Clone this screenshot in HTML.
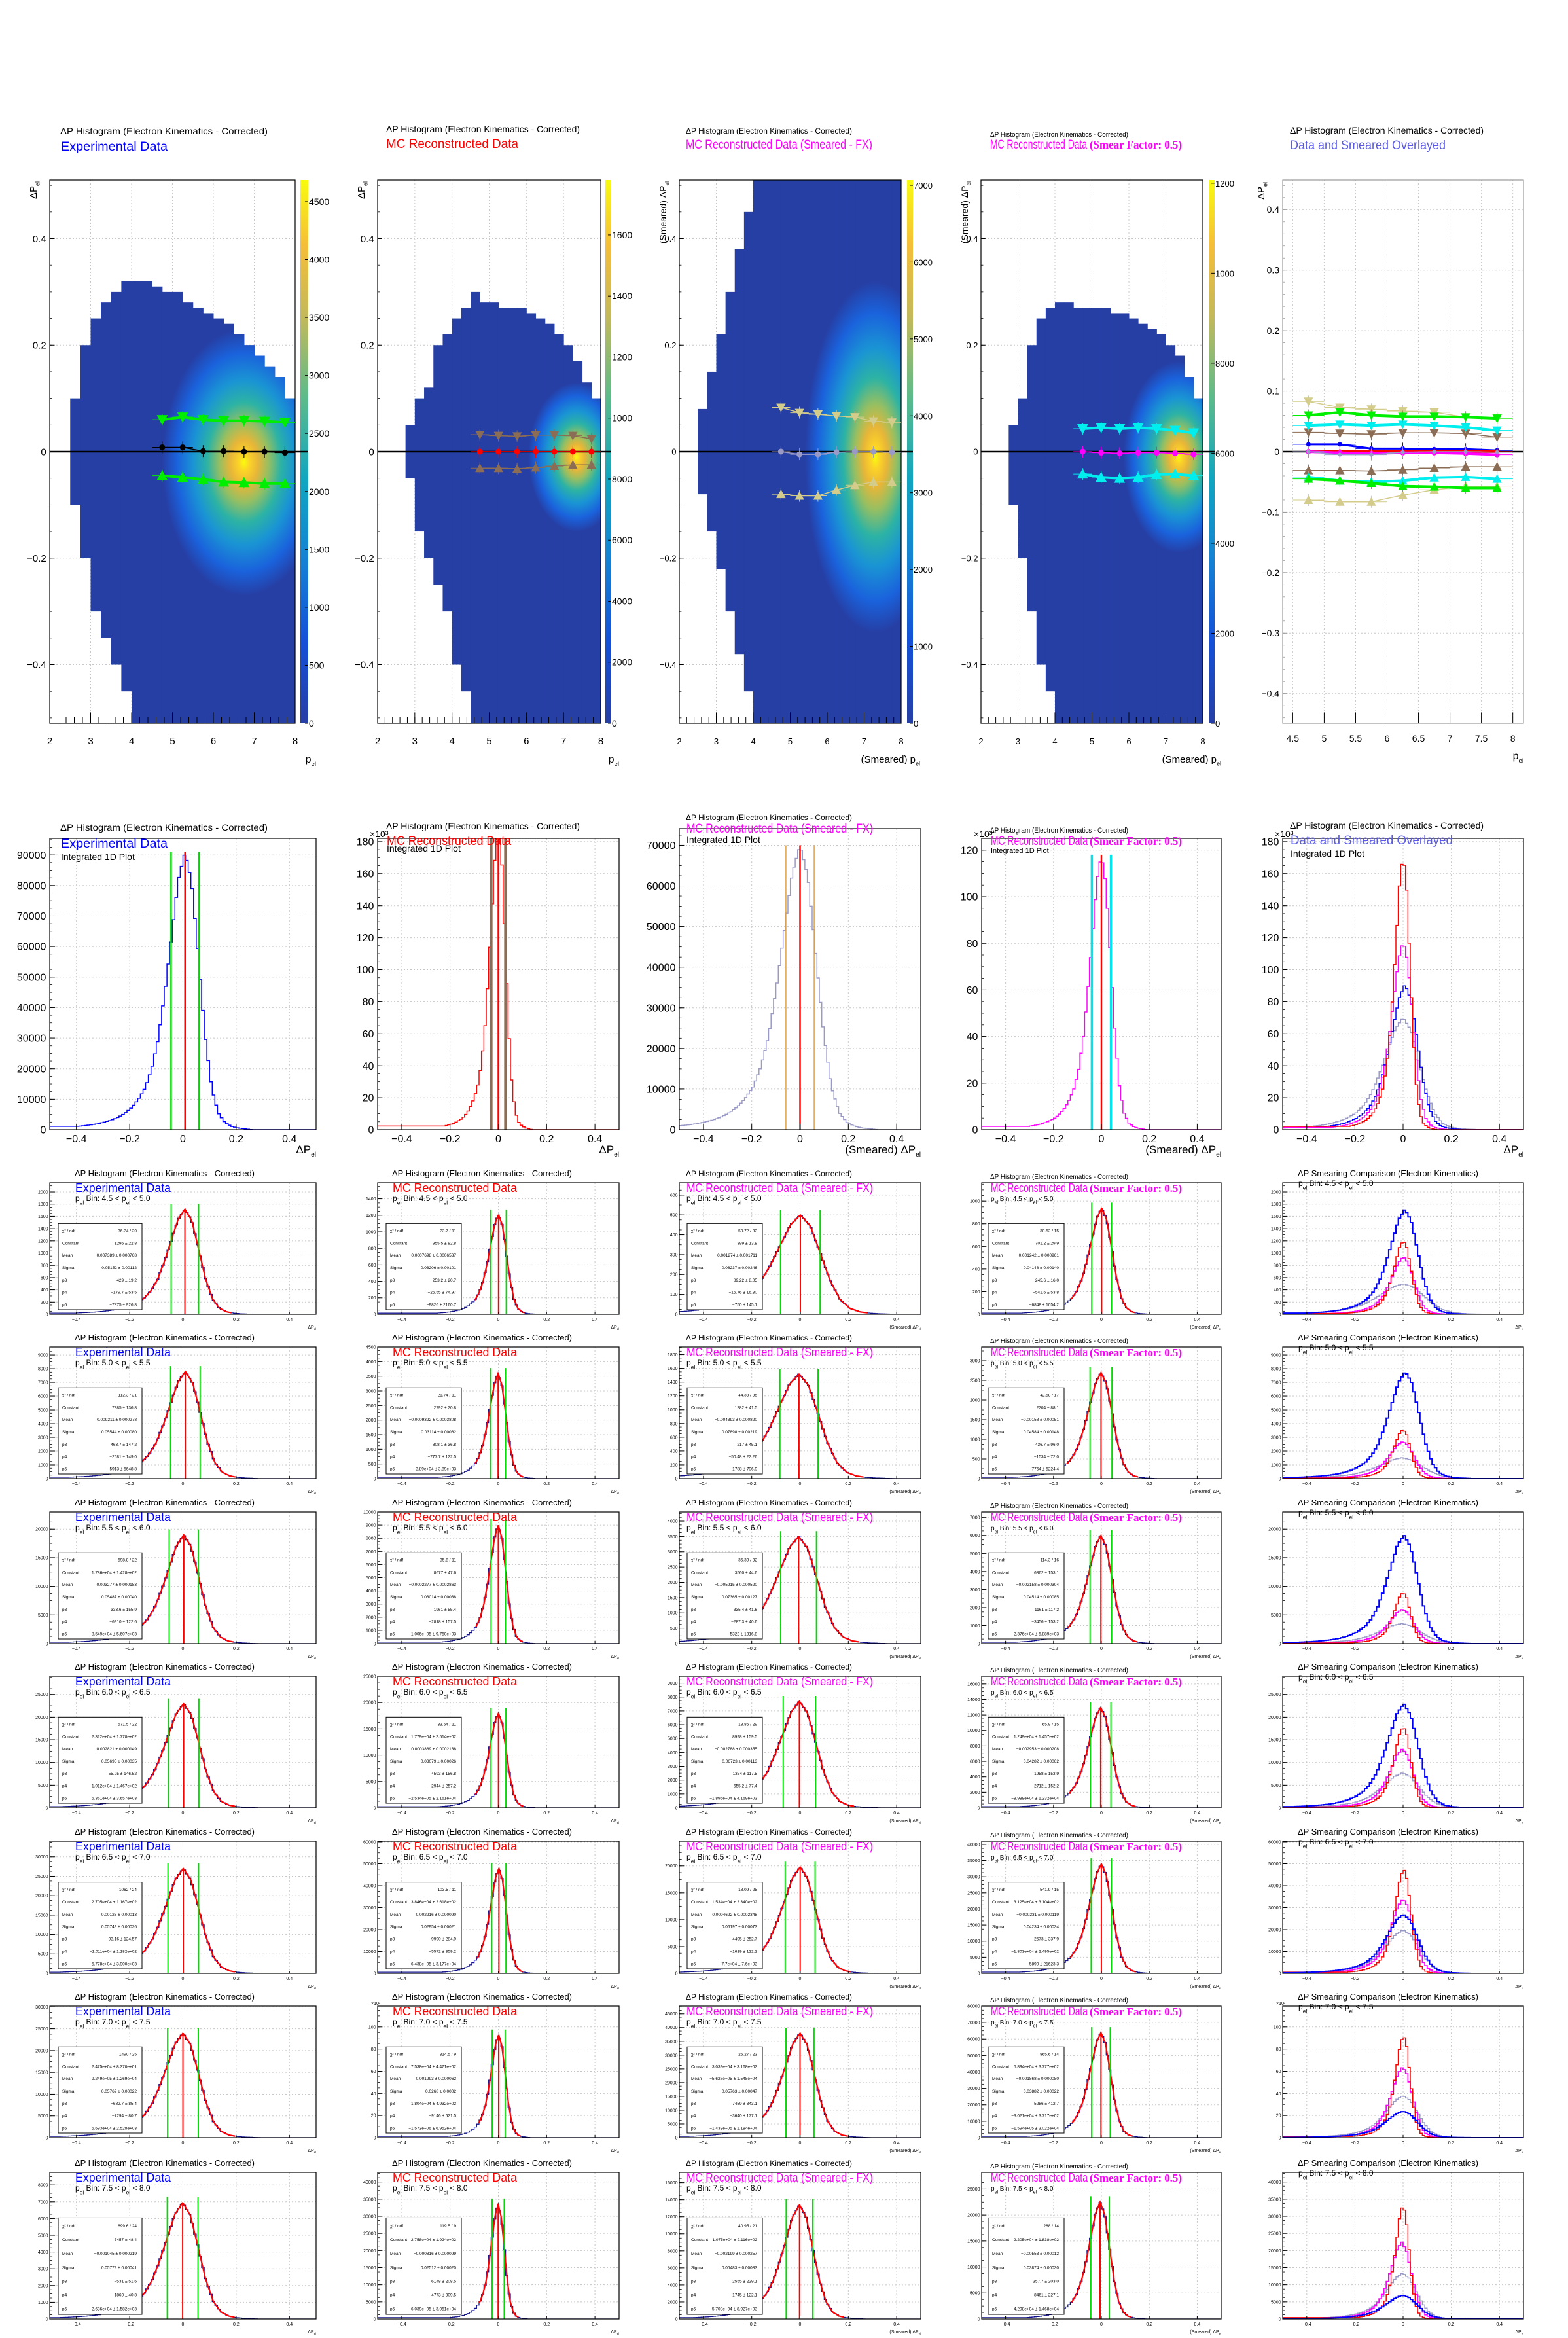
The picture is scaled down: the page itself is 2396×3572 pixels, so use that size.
<!DOCTYPE html>
<html><head><meta charset="utf-8"><style>
html,body{margin:0;padding:0;background:#fff;}
svg{display:block;font-family:"Liberation Sans",sans-serif;}
</style></head><body>
<svg id="fig" xmlns="http://www.w3.org/2000/svg" width="2396" height="3572" viewBox="0 0 2396 3572">
<defs>
<linearGradient id="palGrad" x1="0" y1="1" x2="0" y2="0">
<stop offset="0" stop-color="#263fa5"/><stop offset="0.15" stop-color="#1450d8"/><stop offset="0.3" stop-color="#1482d4"/>
<stop offset="0.45" stop-color="#10a6c0"/><stop offset="0.6" stop-color="#5cbb8a"/><stop offset="0.75" stop-color="#c4b95a"/>
<stop offset="0.88" stop-color="#f5be38"/><stop offset="1" stop-color="#f9fb0e"/></linearGradient>
<radialGradient id="blobGrad" cx="0.5" cy="0.5" r="0.5">
<stop offset="0" stop-color="#f9fb0e"/><stop offset="0.07" stop-color="#fbd228"/><stop offset="0.17" stop-color="#e8b638"/>
<stop offset="0.3" stop-color="#96bf62"/><stop offset="0.45" stop-color="#2db3a4"/><stop offset="0.62" stop-color="#1a94d4"/>
<stop offset="0.82" stop-color="#1a62dc"/><stop offset="1" stop-color="#263fa5"/></radialGradient>
</defs>
</svg>
<script>
// ---------- data ----------
const binLabels = [["4.5","5.0"],["5.0","5.5"],["5.5","6.0"],["6.0","6.5"],["6.5","7.0"],["7.0","7.5"],["7.5","8.0"]];
const expPeak = [1720,7800,19000,23000,27000,24000,6950];
const expYmax = [2150,9575,23000,29000,34000,30200,8750];
const expSig = [0.0515,0.0554,0.0549,0.057,0.0575,0.0576,0.0577];
const expMu = [0.0074,0.0092,0.0033,0.0028,0.0013,0.0001,-0.001];
const mcPeak = [1210,3600,9000,18000,48000,93000,33500];
const mcYmax = [1595,4500,10000,25000,60300,118800,42800];
const mcSig = [0.032,0.031,0.030,0.031,0.0295,0.0268,0.0251];
const mcMu = [0.0008,-0.0009,-0.0002,0.0004,0.0022,0.0013,-0.0008];
const fxPeak = [500,1520,3500,7700,19800,38000,13400];
const fxYmax = [662,1910,4300,9500,24600,47800,17200];
const fxSig = [0.082,0.079,0.074,0.067,0.062,0.058,0.055];
const fxMu = [0.0013,-0.0044,-0.0059,-0.0028,0.0005,-0.0001,-0.0022];
const s5Peak = [940,2700,6000,13000,34000,64000,22500];
const s5Ymax = [1163,3350,7300,17000,41000,80000,28200];
const s5Sig = [0.0415,0.0458,0.0451,0.0428,0.0423,0.0388,0.0387];
const s5Mu = [0.0012,-0.0016,-0.0022,-0.003,-0.0002,-0.0019,-0.0055];
const ovYmax = [2150,9575,23000,29000,60300,118800,42800];
// integrated 1D plots
const intPeak = [91000,190000,70000,118000];
const intYmax = [95400,182000,74100,125000,182000];
const intSig = [0.05,0.028,0.065,0.038];
const intMu = [0.008,0,0,0];
const intOvPeak = [172000,118000,91000,70000];
const profile = [0.012,0.015,0.018,0.022,0.028,0.035,0.045,0.06,0.08,0.11,0.15,0.22,0.33,0.5,0.7,0.9,1,0.89,0.62,0.34,0.15,0.06,0.025,0.012,0.006,0.003,0];
// heat map envelopes, bins of 0.25 from 2.5 to 8.0
const envTop = [
 [0.1,0.2,0.25,0.28,0.3,0.32,0.32,0.32,0.31,0.3,0.3,0.28,0.27,0.26,0.25,0.24,0.22,0.2,0.18,0.16,0.14,0.1],
 [0,0.05,0.1,0.12,0.2,0.22,0.25,0.27,0.3,0.28,0.28,0.27,0.27,0.27,0.26,0.25,0.24,0.22,0.2,0.17,0.13,0.1],
 [0.08,0.15,0.22,0.3,0.38,0.45,0.51,0.51,0.51,0.51,0.51,0.51,0.51,0.51,0.51,0.51,0.51,0.51,0.51,0.51,0.51,0.51],
 [0,0.05,0.1,0.2,0.25,0.27,0.28,0.28,0.27,0.27,0.27,0.27,0.26,0.26,0.25,0.24,0.23,0.22,0.2,0.18,0.14,0.1]];
const envBot = [
 [-0.1,-0.2,-0.3,-0.35,-0.4,-0.45,-0.51,-0.51,-0.51,-0.51,-0.51,-0.51,-0.51,-0.51,-0.51,-0.51,-0.51,-0.51,-0.51,-0.51,-0.51,-0.51],
 [0,-0.05,-0.15,-0.2,-0.25,-0.3,-0.4,-0.45,-0.51,-0.51,-0.51,-0.51,-0.51,-0.51,-0.51,-0.51,-0.51,-0.51,-0.51,-0.51,-0.51,-0.51],
 [-0.08,-0.15,-0.22,-0.3,-0.38,-0.45,-0.51,-0.51,-0.51,-0.51,-0.51,-0.51,-0.51,-0.51,-0.51,-0.51,-0.51,-0.51,-0.51,-0.51,-0.51,-0.51],
 [0,-0.1,-0.2,-0.3,-0.4,-0.45,-0.51,-0.51,-0.51,-0.51,-0.51,-0.51,-0.51,-0.51,-0.51,-0.51,-0.51,-0.51,-0.51,-0.51,-0.51,-0.51]];
const blobCx = [6.75,7.35,7.3,7.35], blobCy = [-0.02,-0.01,-0.01,-0.01], blobRx = [2.0,1.3,1.9,1.5], blobRy = [0.25,0.14,0.33,0.18];
const profX = [4.75,5.25,5.75,6.25,6.75,7.25,7.75];
const expMean = [0.008,0.008,0.001,0.001,0,0,-0.002];
const expUp = [0.06,0.065,0.06,0.058,0.058,0.057,0.055];
const expLo = [-0.045,-0.048,-0.052,-0.057,-0.058,-0.06,-0.06];
const mcMean = [0,0,0,0,0,0,0];
const mcUp = [0.032,0.03,0.029,0.031,0.031,0.03,0.024];
const mcLo = [-0.031,-0.031,-0.032,-0.03,-0.027,-0.025,-0.025];
const fxMean = [0,-0.005,-0.005,-0.001,0,0,-0.001];
const fxUp = [0.083,0.073,0.07,0.067,0.065,0.057,0.055];
const fxLo = [-0.08,-0.083,-0.083,-0.072,-0.063,-0.057,-0.057];
const s5Mean = [0,-0.002,-0.003,-0.002,-0.002,-0.003,-0.005];
const s5Up = [0.043,0.045,0.043,0.045,0.043,0.04,0.035];
const s5Lo = [-0.042,-0.048,-0.05,-0.048,-0.043,-0.042,-0.045];
const palMax = [4686,1780,7068,1207];
const palTicks = [[0,500,1000,1500,2000,2500,3000,3500,4000,4500],[0,200,400,600,800,1000,1200,1400,1600],[0,1000,2000,3000,4000,5000,6000,7000],[0,200,400,600,800,1000,1200]];
const palLabels = [["0","500","1000","1500","2000","2500","3000","3500","4000","4500"],["0","2000","4000","6000","8000","1000","1200","1400","1600"],["0","1000","2000","3000","4000","5000","6000","7000"],["0","2000","4000","6000","8000","1000","1200"]];
const statLabels = ["χ² / ndf","Constant","Mean","Sigma","p3","p4","p5"];
const stats = [
[["36.24 / 20","1296 ± 22.8","0.007389 ± 0.000768","0.05152 ± 0.00112","429 ± 19.2","−179.7 ± 53.5","−7875 ± 926.8"],
 ["23.7 / 11","955.5 ± 82.8","0.0007698 ± 0.0006537","0.03206 ± 0.00101","253.2 ± 20.7","−25.55 ± 74.97","−9826 ± 2160.7"],
 ["50.72 / 32","399 ± 13.8","0.001274 ± 0.001711","0.08237 ± 0.00246","89.22 ± 8.05","−15.76 ± 16.30","−750 ± 145.1"],
 ["30.52 / 15","701.2 ± 29.9","0.001242 ± 0.000961","0.04148 ± 0.00140","245.6 ± 16.0","−541.6 ± 53.8","−6848 ± 1054.2"]],
[["112.3 / 21","7385 ± 136.8","0.009211 ± 0.000278","0.05544 ± 0.00080","463.7 ± 147.2","−2681 ± 149.0","5913 ± 5648.8"],
 ["21.74 / 11","2792 ± 20.8","−0.0009322 ± 0.0003808","0.03114 ± 0.00062","808.1 ± 36.8","−777.7 ± 122.5","−3.89e+04 ± 3.89e+03"],
 ["44.33 / 35","1282 ± 41.5","−0.004393 ± 0.000820","0.07898 ± 0.00219","217 ± 45.1","−50.48 ± 22.26","−1788 ± 796.9"],
 ["42.58 / 17","2204 ± 88.1","−0.00158 ± 0.00051","0.04584 ± 0.00148","436.7 ± 96.0","−1534 ± 72.0","−7764 ± 5224.4"]],
[["598.8 / 22","1.786e+04 ± 1.428e+02","0.003277 ± 0.000183","0.05487 ± 0.00040","333.6 ± 155.9","−6910 ± 122.6","8.549e+04 ± 5.607e+03"],
 ["35.8 / 11","8677 ± 47.6","−0.0002277 ± 0.0002863","0.03014 ± 0.00038","1961 ± 55.4","−2818 ± 157.5","−1.006e+05 ± 9.750e+03"],
 ["36.39 / 32","3560 ± 44.6","−0.005915 ± 0.000520","0.07365 ± 0.00127","335.4 ± 41.6","−287.3 ± 40.6","−5322 ± 1316.8"],
 ["114.3 / 16","6862 ± 153.1","−0.002158 ± 0.000304","0.04514 ± 0.00085","1161 ± 117.2","−3456 ± 153.2","−2.376e+04 ± 5.889e+03"]],
[["571.5 / 22","2.322e+04 ± 1.778e+02","0.002821 ± 0.000149","0.05695 ± 0.00035","55.95 ± 146.52","−1.012e+04 ± 1.467e+02","5.361e+04 ± 3.657e+03"],
 ["33.64 / 11","1.779e+04 ± 2.514e+02","0.0003889 ± 0.0002138","0.03079 ± 0.00026","4593 ± 156.8","−2944 ± 257.2","−2.534e+05 ± 2.161e+04"],
 ["18.85 / 29","8998 ± 159.5","−0.002788 ± 0.000355","0.06723 ± 0.00113","1354 ± 117.5","−655.2 ± 77.4","−1.896e+04 ± 4.169e+03"],
 ["65.9 / 15","1.249e+04 ± 1.457e+02","−0.002953 ± 0.000208","0.04282 ± 0.00062","1958 ± 153.9","−2712 ± 152.2","−8.988e+04 ± 1.232e+04"]],
[["1062 / 24","2.705e+04 ± 1.167e+02","0.00126 ± 0.00013","0.05749 ± 0.00026","−93.16 ± 124.57","−1.011e+04 ± 1.182e+02","5.778e+04 ± 3.900e+03"],
 ["103.5 / 11","3.846e+04 ± 2.618e+02","0.002216 ± 0.000090","0.02954 ± 0.00021","9990 ± 284.9","−5572 ± 359.2","−6.438e+05 ± 3.177e+04"],
 ["18.09 / 25","1.534e+04 ± 2.340e+02","0.0004622 ± 0.0002348","0.06197 ± 0.00073","4495 ± 252.7","−1619 ± 122.2","−7.7e+04 ± 7.6e+03"],
 ["541.9 / 15","3.125e+04 ± 3.104e+02","−0.000231 ± 0.000119","0.04234 ± 0.00034","2573 ± 337.9","−1.803e+04 ± 2.495e+02","−5890 ± 21623.3"]],
[["1490 / 25","2.475e+04 ± 8.370e+01","9.249e−05 ± 1.269e−04","0.05762 ± 0.00022","−682.7 ± 85.4","−7294 ± 80.7","5.693e+04 ± 2.528e+03"],
 ["314.5 / 9","7.538e+04 ± 4.471e+02","0.001293 ± 0.000062","0.0268 ± 0.0002","1.804e+04 ± 4.932e+02","−9146 ± 621.5","−1.573e+06 ± 6.952e+04"],
 ["26.27 / 23","3.039e+04 ± 3.168e+02","−5.627e−05 ± 1.548e−04","0.05763 ± 0.00047","7459 ± 343.1","−3640 ± 177.1","−1.432e+05 ± 1.184e+04"],
 ["865.6 / 14","5.894e+04 ± 3.777e+02","−0.001868 ± 0.000080","0.03882 ± 0.00022","5286 ± 412.7","−3.021e+04 ± 3.717e+02","−1.594e+05 ± 3.022e+04"]],
[["699.6 / 24","7457 ± 48.4","−0.001045 ± 0.000219","0.05772 ± 0.00041","−531 ± 51.6","−1860 ± 40.8","2.636e+04 ± 1.582e+03"],
 ["119.5 / 9","2.758e+04 ± 1.924e+02","−0.000816 ± 0.000099","0.02512 ± 0.00020","6148 ± 208.5","−4773 ± 309.5","−6.039e+05 ± 3.051e+04"],
 ["40.95 / 21","1.075e+04 ± 2.116e+02","−0.002199 ± 0.000257","0.05483 ± 0.00083","2555 ± 229.1","−1745 ± 122.1","−5.708e+04 ± 8.927e+03"],
 ["288 / 14","2.205e+04 ± 1.838e+02","−0.00553 ± 0.00012","0.03874 ± 0.00030","357.7 ± 203.0","−8461 ± 227.1","4.298e+04 ± 1.468e+04"]]];

// ---------- layout ----------
const NS = 'http://www.w3.org/2000/svg';
const svg = document.getElementById('fig');
const defs = svg.querySelector('defs');
let clipId = 0;
function mk(tag, attrs, name, parent, text) {
  const el = document.createElementNS(NS, tag);
  for (const k in attrs) el.setAttribute(k, attrs[k]);
  
  
  if (text !== undefined) el.textContent = text;
  (parent || svg).appendChild(el);
  return el;
}
function fmtNum(v) { const s = String(Math.round(v * 1e6) / 1e6); return s.replace('-', '−'); }
function sx(p, v) { return p.L + (v - p.xmin) / (p.xmax - p.xmin) * (p.R - p.L); }
function sy(p, v) { return p.B - (v - p.ymin) / (p.ymax - p.ymin) * (p.B - p.T); }
function prof(z) {
  if (z < -8) return profile[0];
  if (z >= 5) return 0;
  const f = (z + 8) / 0.5, i = Math.floor(f), t = f - i;
  return profile[i] * (1 - t) + profile[Math.min(i + 1, profile.length - 1)] * t;
}
function niceStep(raw) {
  const e = Math.pow(10, Math.floor(Math.log10(raw)));
  for (const m of [1, 2, 5, 10]) if (m * e >= raw - 1e-9) return m * e;
  return 10 * e;
}
function makeClip(p) {
  const id = 'clip' + (clipId++);
  const c = mk('clipPath', {id: id}, 'plot-clip', defs);
  mk('rect', {x: p.L, y: p.T, width: p.R - p.L, height: p.B - p.T}, 'clip-rect', c);
  return 'url(#' + id + ')';
}
function grid(p, g, xs, ys) {
  xs.forEach(v => mk('line', {x1: sx(p, v), x2: sx(p, v), y1: p.T, y2: p.B, stroke: '#c8c8c8', 'stroke-width': 1, 'stroke-dasharray': '2,3'}, 'grid-line-x', g));
  ys.forEach(v => mk('line', {x1: p.L, x2: p.R, y1: sy(p, v), y2: sy(p, v), stroke: '#c8c8c8', 'stroke-width': 1, 'stroke-dasharray': '2,3'}, 'grid-line-y', g));
}
function frame(p, g, col) {
  mk('rect', {x: p.L, y: p.T, width: p.R - p.L, height: p.B - p.T, fill: 'none', stroke: col || '#000', 'stroke-width': 1.2}, 'plot-frame', g);
}
function yAxis(p, g, ticks, labels, fs, minorN, col) {
  const len = (p.R - p.L) * 0.02;
  ticks.forEach((v, i) => {
    const y = sy(p, v);
    mk('line', {x1: p.L, x2: p.L + len, y1: y, y2: y, stroke: col || '#000', 'stroke-width': 1}, 'y-tick', g);
    mk('text', {x: p.L - fs * 0.35, y: y + fs * 0.35, 'font-size': fs, 'text-anchor': 'end', fill: '#000'}, 'y-tick-label', g, labels[i]);
  });
  if (minorN && ticks.length > 1) {
    const st = (ticks[1] - ticks[0]) / minorN;
    for (let v = ticks[0] - 10 * st; v <= p.ymax; v += st) {
      if (v < p.ymin) continue;
      mk('line', {x1: p.L, x2: p.L + len * 0.5, y1: sy(p, v), y2: sy(p, v), stroke: col || '#000', 'stroke-width': 0.8}, 'y-minor-tick', g);
    }
  }
}
function xAxis(p, g, ticks, labels, fs, labelY) {
  const len = (p.B - p.T) * 0.02;
  ticks.forEach((v, i) => {
    const x = sx(p, v);
    mk('line', {x1: x, x2: x, y1: p.B, y2: p.B - len, stroke: '#000', 'stroke-width': 1}, 'x-tick', g);
    mk('text', {x: x, y: labelY, 'font-size': fs, 'text-anchor': 'middle', fill: '#000'}, 'x-tick-label', g, labels[i]);
  });
}
function subLabel(g, x, y, fs, pre, name, anchor) {
  const t = mk('text', {x: x, y: y, 'font-size': fs, 'text-anchor': anchor || 'end', fill: '#000'}, name, g);
  const a = document.createElementNS(NS, 'tspan'); a.textContent = pre; t.appendChild(a);
  const b = document.createElementNS(NS, 'tspan'); b.setAttribute('font-size', fs * 0.6); b.setAttribute('dy', fs * 0.3); b.textContent = 'el'; t.appendChild(b);
  return t;
}
function binText(g, x, y, fs, lo, hi) {
  const t = mk('text', {x: x, y: y, 'font-size': fs, fill: '#000'}, 'bin-range-label', g);
  const parts = [['p', 0], ['el', 1], [' Bin: ' + lo + ' < p', -1], ['el', 1], [' < ' + hi, -1]];
  parts.forEach(([s, d]) => {
    const sp = document.createElementNS(NS, 'tspan');
    sp.textContent = s;
    if (d === 1) { sp.setAttribute('font-size', fs * 0.7); sp.setAttribute('dy', fs * 0.45); }
    if (d === -1) sp.setAttribute('dy', -fs * 0.45);
    t.appendChild(sp);
  });
}
function histPath(p, g, mu, sig, peak, color, sw, clip, name) {
  let d = '', started = false;
  for (let i = 0; i < 100; i++) {
    const x0 = -0.5 + i * 0.01, x1 = x0 + 0.01, xc = x0 + 0.005;
    const v = peak * prof((xc - mu) / sig);
    const y = sy(p, Math.min(v, p.ymax * 1.05));
    if (!started) { d += 'M' + sx(p, x0).toFixed(1) + ' ' + sy(p, 0).toFixed(1); started = true; }
    d += 'L' + sx(p, x0).toFixed(1) + ' ' + y.toFixed(1) + 'L' + sx(p, x1).toFixed(1) + ' ' + y.toFixed(1);
  }
  mk('path', {d: d, fill: 'none', stroke: color, 'stroke-width': sw, 'clip-path': clip}, name, g);
}
function fitCurve(p, g, mu, sig, peak, clip) {
  let d = '';
  for (let x = mu - 3.1 * sig; x <= mu + 3.4 * sig; x += 0.002) {
    const v = peak * prof((x - mu) / sig);
    d += (d ? 'L' : 'M') + sx(p, x).toFixed(1) + ' ' + sy(p, v).toFixed(1);
  }
  mk('path', {d: d, fill: 'none', stroke: '#ff0000', 'stroke-width': 2.2, 'clip-path': clip}, 'fit-curve', g);
}
function vline(p, g, x, top, color, sw, name) {
  mk('line', {x1: sx(p, x), x2: sx(p, x), y1: sy(p, 0), y2: Math.max(p.T, sy(p, top)), stroke: color, 'stroke-width': sw}, name, g);
}
function yTicksFor(p) {
  const st = niceStep(p.ymax / 11), t = [];
  for (let v = 0; v <= p.ymax * 1.001; v += st) t.push(v);
  return t;
}
function yLabelsFor(ticks, ymax) {
  if (ymax >= 100000) return ticks.map(v => fmtNum(v / 1000));
  return ticks.map(v => fmtNum(v));
}
const xT = [-0.4, -0.2, 0, 0.2, 0.4], xTL = ['−0.4', '−0.2', '0', '0.2', '0.4'];

// ---------- row 1: heat maps ----------
const r1L = [76, 577, 1038, 1499, 1960], r1R = [451, 918, 1377, 1838, 2328];
const palX = [[459, 471], [925, 934], [1386, 1395], [1847, 1856]];
const r1Title = [{x: 92, y: 205, w: 317, fs: 14}, {x: 590, y: 202, w: 296, fs: 14}, {x: 1048, y: 204, w: 254, fs: 12}, {x: 1513, y: 209, w: 211, fs: 11}, {x: 1971, y: 204, w: 296, fs: 14}];
const r1Sub = [{t: 'Experimental Data', c: '#0000ff', x: 93, y: 230, w: 163}, {t: 'MC Reconstructed Data', c: '#ff0000', x: 590, y: 226, w: 202}, {t: 'MC Reconstructed Data (Smeared - FX)', c: '#ff00ff', x: 1048, y: 227, w: 285}, {t: 'MC Reconstructed Data', c: '#ff00ff', x: 1513, y: 227, w: 148}, {t: 'Data and Smeared Overlayed', c: '#5a5ae6', x: 1971, y: 228, w: 238}];
const meanSets = [expMean, mcMean, fxMean, s5Mean], upSets = [expUp, mcUp, fxUp, s5Up], loSets = [expLo, mcLo, fxLo, s5Lo];
const meanCol = ['#000000', '#ff0000', '#9a9ac8', '#ff00ff'], bandCol = ['#00ee00', '#8b6c55', '#d4cc8a', '#00eeee'];
const bandW = [4, 1.5, 1.5, 4];

function drawProfile(p, g, ys, color, marker, ms, lw, name) {
  let d = '';
  profX.forEach((x, i) => { d += (i ? 'L' : 'M') + sx(p, x).toFixed(1) + ' ' + sy(p, ys[i]).toFixed(1); });
  mk('path', {d: d, fill: 'none', stroke: color, 'stroke-width': lw}, name + '-line', g);
  profX.forEach((x, i) => {
    const cx = sx(p, x), cy = sy(p, ys[i]);
    mk('line', {x1: sx(p, x - 0.25), x2: sx(p, x + 0.25), y1: cy, y2: cy, stroke: color, 'stroke-width': 1}, name + '-xerr', g);
    mk('line', {x1: cx, x2: cx, y1: cy - 9, y2: cy + 9, stroke: color, 'stroke-width': 1}, name + '-yerr', g);
    if (marker === 'circle') mk('circle', {cx: cx, cy: cy, r: ms * 0.5, fill: color}, name + '-marker', g);
    else if (marker === 'down') mk('polygon', {points: (cx - ms * 0.6) + ',' + (cy - ms * 0.5) + ' ' + (cx + ms * 0.6) + ',' + (cy - ms * 0.5) + ' ' + cx + ',' + (cy + ms * 0.6), fill: color}, name + '-marker', g);
    else mk('polygon', {points: (cx - ms * 0.6) + ',' + (cy + ms * 0.5) + ' ' + (cx + ms * 0.6) + ',' + (cy + ms * 0.5) + ' ' + cx + ',' + (cy - ms * 0.6), fill: color}, name + '-marker', g);
  });
}

for (let c = 0; c < 5; c++) {
  const g = mk('g', {}, 'heatmap-panel-' + (c + 1), svg);
  const isOv = c === 4;
  const p = isOv ? {L: r1L[c], R: r1R[c], T: 275, B: 1105, xmin: 4.34, xmax: 8.17, ymin: -0.449, ymax: 0.449}
                 : {L: r1L[c], R: r1R[c], T: 275, B: 1105, xmin: 2, xmax: 8, ymin: -0.51, ymax: 0.51};
  const clip = makeClip(p);
  const tt = r1Title[c];
  mk('text', {x: tt.x, y: tt.y, 'font-size': tt.fs, textLength: tt.w, lengthAdjust: 'spacingAndGlyphs', fill: '#000'}, 'panel-title', g, 'ΔP Histogram (Electron Kinematics - Corrected)');
  const sb = r1Sub[c];
  mk('text', {x: sb.x, y: sb.y, 'font-size': 19, textLength: sb.w, lengthAdjust: 'spacingAndGlyphs', fill: sb.c}, 'panel-subtitle', g, sb.t);
  if (c === 3) mk('text', {x: 1665, y: 227, 'font-size': 18, 'font-weight': 'bold', 'font-family': 'Liberation Serif, serif', textLength: 141, lengthAdjust: 'spacingAndGlyphs', fill: '#ff00ff'}, 'smear-factor-label', g, '(Smear Factor: 0.5)');
  if (isOv) {
    grid(p, g, [4.5, 5, 5.5, 6, 6.5, 7, 7.5, 8], [-0.4, -0.3, -0.2, -0.1, 0, 0.1, 0.2, 0.3, 0.4]);
    frame(p, g, '#999');
    yAxis(p, g, [-0.4, -0.3, -0.2, -0.1, 0, 0.1, 0.2, 0.3, 0.4], ['−0.4', '−0.3', '−0.2', '−0.1', '0', '0.1', '0.2', '0.3', '0.4'], 14, 5, '#999');
    xAxis(p, g, [4.5, 5, 5.5, 6, 6.5, 7, 7.5, 8], ['4.5', '5', '5.5', '6', '6.5', '7', '7.5', '8'], 14, 1133);
    mk('line', {x1: p.L, x2: p.R, y1: sy(p, 0), y2: sy(p, 0), stroke: '#000', 'stroke-width': 2.5}, 'zero-line', g);
    const ord = [2, 1, 3, 0];
    ord.forEach(k => {
      drawProfile(p, g, upSets[k], bandCol[k], 'down', 12, k === 0 || k === 3 ? 4 : 1.5, 'overlay-upper-' + k);
      drawProfile(p, g, loSets[k], bandCol[k], 'up', 12, k === 0 || k === 3 ? 4 : 1.5, 'overlay-lower-' + k);
    });
    drawProfile(p, g, expMean.map(v => v + 0.004), '#0000ff', 'circle', 7, 3, 'overlay-exp-mean');
    drawProfile(p, g, mcMean, '#ff0000', 'circle', 7, 4, 'overlay-mc-mean');
    drawProfile(p, g, s5Mean, '#ff00ff', 'circle', 8, 4, 'overlay-smear-mean');
    drawProfile(p, g, fxMean, '#9a9ac8', 'circle', 6, 1.5, 'overlay-fx-mean');
    subLabel(g, 2328, 1160, 16, 'p', 'x-axis-title');
    const yt = subLabel(g, 0, 0, 15, 'ΔP', 'y-axis-title', 'start');
    yt.setAttribute('transform', 'translate(1932,305) rotate(-90)');
    continue;
  }
  grid(p, g, [3, 4, 5, 6, 7], [-0.4, -0.2, 0, 0.2, 0.4]);
  const eg = mk('g', {'clip-path': clip}, 'heatmap-cells', g);
  const cid = 'env' + c;
  const cp = mk('clipPath', {id: cid}, 'envelope-clip', defs);
  envTop[c].forEach((t, i) => {
    const b = envBot[c][i];
    if (t - b <= 0) return;
    const x0 = 2.5 + i * 0.25;
    const r = {x: sx(p, x0), y: sy(p, t), width: sx(p, x0 + 0.25) - sx(p, x0) + 0.5, height: sy(p, b) - sy(p, t)};
    mk('rect', Object.assign({fill: '#263fa5'}, r), 'heatmap-bin', eg);
    mk('rect', r, 'envelope-bin', cp);
  });
  mk('ellipse', {cx: sx(p, blobCx[c]), cy: sy(p, blobCy[c]), rx: sx(p, blobCx[c] + blobRx[c]) - sx(p, blobCx[c]), ry: sy(p, blobCy[c] - blobRy[c]) - sy(p, blobCy[c]), fill: 'url(#blobGrad)', 'clip-path': 'url(#' + cid + ')'}, 'heatmap-peak-density', eg);
  frame(p, g);
  yAxis(p, g, [-0.4, -0.2, 0, 0.2, 0.4], ['−0.4', '−0.2', '0', '0.2', '0.4'], c >= 2 ? 13 : 15, 4);
  xAxis(p, g, [2, 3, 4, 5, 6, 7, 8], ['2', '3', '4', '5', '6', '7', '8'], c >= 2 ? 13 : 15, 1137);
  for (let v = 2.2; v < 8; v += 0.2) mk('line', {x1: sx(p, v), x2: sx(p, v), y1: p.B, y2: p.B - 9, stroke: '#000', 'stroke-width': 1}, 'x-minor-tick', g);
  const [pl, pr] = palX[c];
  mk('rect', {x: pl, y: p.T, width: pr - pl, height: p.B - p.T, fill: 'url(#palGrad)'}, 'color-palette', g);
  palTicks[c].forEach((v, i) => {
    const y = p.B - v / palMax[c] * (p.B - p.T);
    mk('line', {x1: pr - 5, x2: pr, y1: y, y2: y, stroke: '#000', 'stroke-width': 1}, 'palette-tick', g);
    mk('text', {x: pr + 1, y: y + 5, 'font-size': c >= 2 ? 13 : 14, fill: '#000'}, 'palette-tick-label', g, palLabels[c][i]);
  });
  mk('line', {x1: p.L, x2: pr, y1: sy(p, 0), y2: sy(p, 0), stroke: '#000', 'stroke-width': 2.5}, 'zero-line', g);
  drawProfile(p, g, upSets[c], bandCol[c], 'down', c === 0 || c === 3 ? 14 : 12, bandW[c], 'upper-band');
  drawProfile(p, g, loSets[c], bandCol[c], 'up', c === 0 || c === 3 ? 14 : 12, bandW[c], 'lower-band');
  drawProfile(p, g, meanSets[c], meanCol[c], 'circle', 9, 1.5, 'mean-profile');
  if (c >= 2) {
    subLabel(g, c === 2 ? 1406 : 1866, 1165, 15, '(Smeared) p', 'x-axis-title');
    const yt = subLabel(g, 0, 0, 14, '(Smeared) ΔP', 'y-axis-title', 'end');
    yt.setAttribute('transform', 'translate(' + (p.L - 20) + ',277) rotate(-90)');
  } else {
    subLabel(g, c === 0 ? 483 : 946, 1165, 16, 'p', 'x-axis-title');
    const yt = subLabel(g, 0, 0, 15, 'ΔP', 'y-axis-title', 'end');
    yt.setAttribute('transform', 'translate(' + (p.L - 20) + ',277) rotate(-90)');
  }
}

// ---------- row 2: integrated ----------
const r2L = [76, 577, 1038, 1500, 1960], r2R = [483, 946, 1407, 1866, 2328];
const r2T = [1281, 1281, 1266, 1281, 1281];
const r2Sub = [{t: 'Experimental Data', c: '#0000ff', w: 163}, {t: 'MC Reconstructed Data', c: '#ff0000', w: 190}, {t: 'MC Reconstructed Data (Smeared - FX)', c: '#ff00ff', w: 285}, {t: 'MC Reconstructed Data', c: '#ff00ff', w: 148}, {t: 'Data and Smeared Overlayed', c: '#5a5ae6', w: 248}];
const r2TitleW = [317, 296, 254, 211, 296], r2TitleFs = [14, 14, 12, 11, 14];
const r2TX = [92, 590, 1048, 1513, 1971];
const r2TitleDy = [-12, -14, -13, -9, -15], r2SubDy = [14, 10, 6, 10, 9], r2IntDy = [33, 20, 22, 22, 28];
const intColor = ['#0000ff', '#ff0000', '#9a9ac8', '#ff00ff'];
const lineCol = ['#00dd00', '#8b6c55', '#e0a040', '#00e5ee'], lineW = [2.5, 4, 1.5, 3.5];
const ovColors = ['#ff0000', '#ff00ff', '#0000ff', '#9a9ac8'];
const ovSig = [0.028, 0.038, 0.05, 0.065], ovMu = [0, 0, 0.008, 0];
for (let c = 0; c < 5; c++) {
  const g = mk('g', {}, 'integrated-panel-' + (c + 1), svg);
  const p = {L: r2L[c], R: r2R[c], T: r2T[c], B: 1726, xmin: -0.5, xmax: 0.5, ymin: 0, ymax: intYmax[c]};
  const clip = makeClip(p);
  const yt = yTicksFor(p);
  grid(p, g, xT, yt);
  const t0 = p.T;
  mk('text', {x: r2TX[c], y: t0 + r2TitleDy[c], 'font-size': r2TitleFs[c], textLength: r2TitleW[c], lengthAdjust: 'spacingAndGlyphs', fill: '#000'}, 'panel-title', g, 'ΔP Histogram (Electron Kinematics - Corrected)');
  if (c < 4) {
    histPath(p, g, intMu[c], intSig[c], intPeak[c], intColor[c], 1.5, clip, 'integrated-histogram');
    const top = intPeak[c];
    vline(p, g, intMu[c] - intSig[c] * (c === 2 ? 0.9 : 1.05), top, lineCol[c], lineW[c], 'sigma-line-low');
    vline(p, g, intMu[c] + intSig[c] * (c === 2 ? 0.9 : 1.05), top, lineCol[c], lineW[c], 'sigma-line-high');
    vline(p, g, intMu[c], top, '#ff0000', 2.5, 'mean-line');
  } else {
    [3, 2, 1, 0].forEach(k => histPath(p, g, ovMu[k], ovSig[k], intOvPeak[k], ovColors[k], 1.5, clip, 'overlay-histogram-' + k));
  }
  frame(p, g);
  yAxis(p, g, yt, yLabelsFor(yt, p.ymax), 16, 4);
  xAxis(p, g, xT, xTL, 16, 1745);
  if (p.ymax >= 100000) mk('text', {x: p.L - 12, y: p.T - 2, 'font-size': 14, fill: '#000'}, 'y-scale-factor', g, '×10³');
  const sb = r2Sub[c];
  mk('text', {x: r2TX[c] + 1, y: t0 + r2SubDy[c], 'font-size': 19, textLength: sb.w, lengthAdjust: 'spacingAndGlyphs', fill: sb.c}, 'panel-subtitle', g, sb.t);
  if (c === 3) mk('text', {x: 1665, y: t0 + r2SubDy[c], 'font-size': 18, 'font-weight': 'bold', 'font-family': 'Liberation Serif, serif', textLength: 141, lengthAdjust: 'spacingAndGlyphs', fill: '#ff00ff'}, 'smear-factor-label', g, '(Smear Factor: 0.5)');
  mk('text', {x: r2TX[c] + 1, y: t0 + r2IntDy[c], 'font-size': c === 3 ? 11 : 14, fill: '#000'}, 'integrated-plot-label', g, 'Integrated 1D Plot');
  subLabel(g, p.R, 1762, 17, c === 2 || c === 3 ? '(Smeared) ΔP' : 'ΔP', 'x-axis-title');
}

// ---------- rows 3-9: per-bin fits ----------
const rT = [1807, 2058, 2310, 2561, 2813, 3065, 3319];
const rB = [2008, 2259, 2511, 2762, 3015, 3266, 3543];
const fitTX = [114, 599, 1048, 1513, 1983], fitTW = [275, 275, 254, 211, 276], fitTFs = [13, 13, 12, 10, 13];
const boxDx = [13, 13, 12, 10], boxW = [128, 115, 115, 116];
const peakSets = [expPeak, mcPeak, fxPeak, s5Peak], ymaxSets = [expYmax, mcYmax, fxYmax, s5Ymax];
const sigSets = [expSig, mcSig, fxSig, s5Sig], muSets = [expMu, mcMu, fxMu, s5Mu];
const subInfo = [{t: 'Experimental Data', c: '#0000ff', w: 146}, {t: 'MC Reconstructed Data', c: '#ff0000', w: 190}, {t: 'MC Reconstructed Data (Smeared - FX)', c: '#ff00ff', w: 285}, {t: 'MC Reconstructed Data', c: '#ff00ff', w: 148}];
for (let r = 0; r < 7; r++) {
  for (let c = 0; c < 5; c++) {
    const g = mk('g', {}, 'bin-panel-r' + (r + 1) + '-c' + (c + 1), svg);
    const p = {L: r2L[c], R: r2R[c], T: rT[r], B: rB[r], xmin: -0.5, xmax: 0.5, ymin: 0, ymax: c < 4 ? ymaxSets[c][r] : ovYmax[r]};
    const clip = makeClip(p);
    const yt = yTicksFor(p);
    grid(p, g, xT, yt);
    const title = c < 4 ? 'ΔP Histogram (Electron Kinematics - Corrected)' : 'ΔP Smearing Comparison (Electron Kinematics)';
    mk('text', {x: fitTX[c], y: p.T - (c === 3 ? 6 : 10), 'font-size': fitTFs[c], textLength: fitTW[c], lengthAdjust: 'spacingAndGlyphs', fill: '#000'}, 'panel-title', g, title);
    if (c < 4) {
      const mu = muSets[c][r], sg = sigSets[c][r], pk = peakSets[c][r];
      histPath(p, g, mu, sg, pk, '#10108a', 1.3, clip, 'bin-histogram');
      fitCurve(p, g, mu, sg, pk, clip);
      vline(p, g, mu - sg, pk * 1.05, '#00dd00', 2, 'sigma-line-low');
      vline(p, g, mu + sg, pk * 1.05, '#00dd00', 2, 'sigma-line-high');
      vline(p, g, mu, pk, '#ff0000', 2, 'mean-line');
      const bx = p.L + boxDx[c], by = p.T + (p.B - p.T) * 0.31, bw = boxW[c], bh = p.B - 7 - by;
      const sbx = mk('g', {}, 'fit-stats-box', g);
      mk('rect', {x: bx, y: by, width: bw, height: bh, fill: '#fff', stroke: '#000', 'stroke-width': 1}, 'stats-box-frame', sbx);
      statLabels.forEach((lab, i) => {
        const yy = by + bh * (i + 0.6) / 7 + 2;
        mk('text', {x: bx + 6, y: yy, 'font-size': 6.5, fill: '#000'}, 'stats-label', sbx, lab);
        mk('text', {x: bx + bw - 8, y: yy, 'font-size': 6.5, 'text-anchor': 'end', fill: '#000'}, 'stats-value', sbx, stats[r][c][i]);
      });
      const si = subInfo[c];
      mk('text', {x: fitTX[c] + 1, y: p.T + 14, 'font-size': 18, textLength: si.w, lengthAdjust: 'spacingAndGlyphs', fill: si.c}, 'panel-subtitle', g, si.t);
      if (c === 3) mk('text', {x: 1665, y: p.T + 14, 'font-size': 17, 'font-weight': 'bold', 'font-family': 'Liberation Serif, serif', textLength: 141, lengthAdjust: 'spacingAndGlyphs', fill: '#ff00ff'}, 'smear-factor-label', g, '(Smear Factor: 0.5)');
      binText(g, fitTX[c] + 1, p.T + 28, c === 3 ? 10 : 12, binLabels[r][0], binLabels[r][1]);
    } else {
      histPath(p, g, fxMu[r], fxSig[r], fxPeak[r], '#9a9ac8', 1.5, clip, 'overlay-fx-histogram');
      histPath(p, g, s5Mu[r], s5Sig[r], s5Peak[r], '#ff00ff', 1.8, clip, 'overlay-smear-histogram');
      histPath(p, g, mcMu[r], mcSig[r], mcPeak[r], '#ff0000', 1.5, clip, 'overlay-mc-histogram');
      histPath(p, g, expMu[r], expSig[r], expPeak[r], '#0000ff', 2, clip, 'overlay-exp-histogram');
      binText(g, fitTX[c] + 1, p.T + 5, 12, binLabels[r][0], binLabels[r][1]);
    }
    frame(p, g);
    yAxis(p, g, yt, yLabelsFor(yt, p.ymax), 7, 4);
    xAxis(p, g, xT, xTL, 7, p.B + 10);
    if (p.ymax >= 100000) mk('text', {x: p.L - 10, y: p.T - 2, 'font-size': 7, fill: '#000'}, 'y-scale-factor', g, '×10³');
    subLabel(g, p.R, p.B + 22, 7, c === 2 || c === 3 ? '(Smeared) ΔP' : 'ΔP', 'x-axis-title');
  }
}
</script>
</body></html>
